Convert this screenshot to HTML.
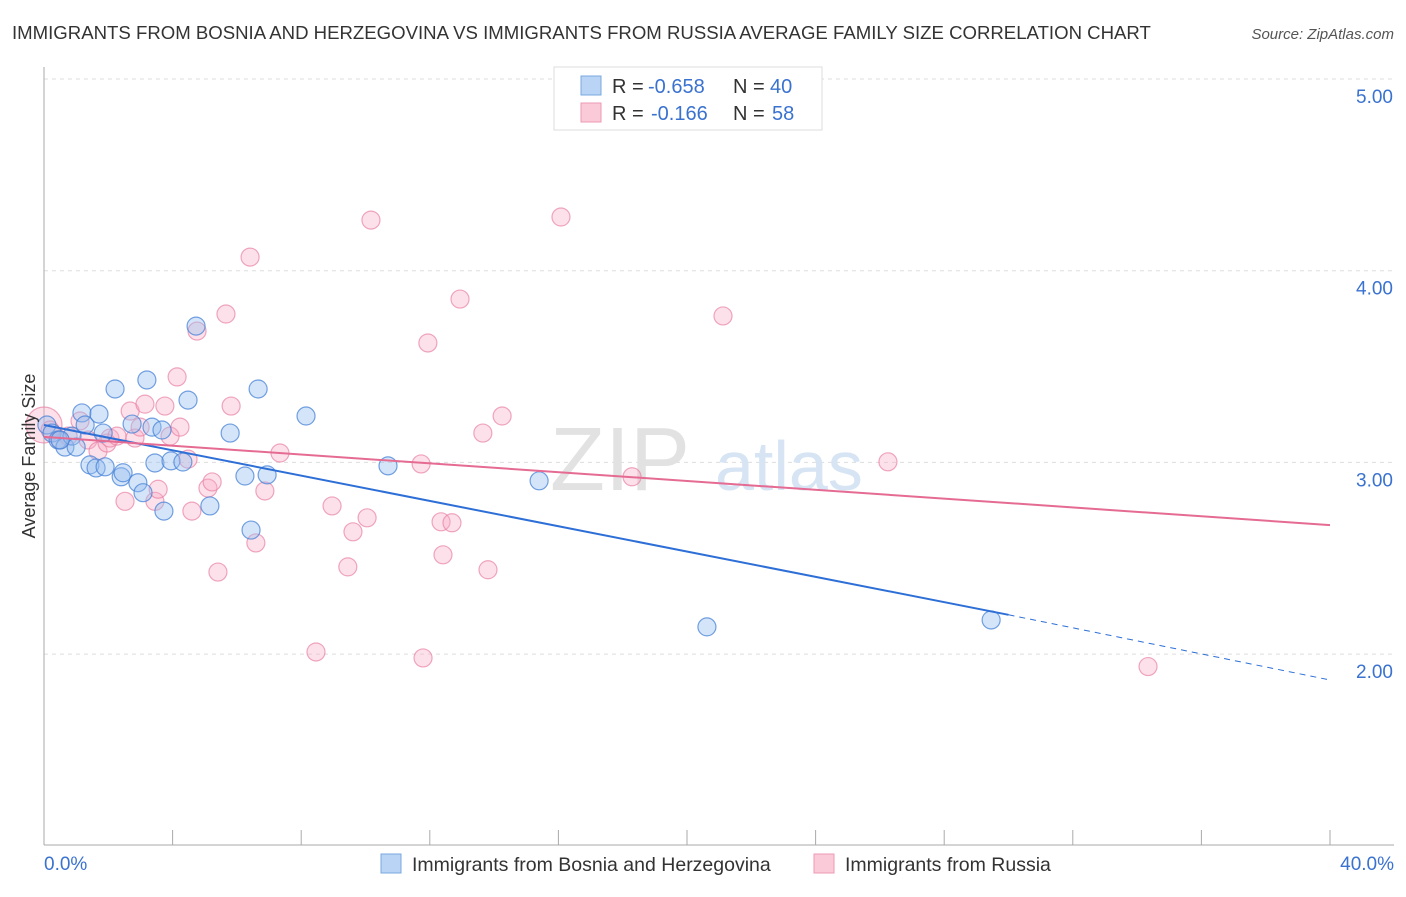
<!DOCTYPE html>
<html><head><meta charset="utf-8"><style>
body{margin:0;background:#fff;font-family:"Liberation Sans",sans-serif;}
svg text{font-family:"Liberation Sans",sans-serif;}
</style></head><body>
<svg id="chart" width="1406" height="892" xmlns="http://www.w3.org/2000/svg">
<text x="12" y="39" font-size="18.6" fill="#333">IMMIGRANTS FROM BOSNIA AND HERZEGOVINA VS IMMIGRANTS FROM RUSSIA AVERAGE FAMILY SIZE CORRELATION CHART</text>
<text x="1394" y="39" font-size="15" fill="#555" font-style="italic" text-anchor="end">Source: ZipAtlas.com</text>
<g id="grid"></g>
<text x="690" y="490" font-size="90" fill="#e2e2e2" text-anchor="end" font-family="Liberation Serif">ZIP</text>
<text x="715" y="490" font-size="70" fill="#d6e4f4">atlas</text>
<g id="points"></g>
<g id="lines"></g>
<text x="35" y="456" font-size="18" fill="#333" text-anchor="middle" transform="rotate(-90 35 456)">Average Family Size</text>
<g>
<rect x="554" y="67" width="268" height="63" fill="#fff" stroke="#ddd"/>
<rect x="581" y="76" width="20" height="19" fill="#b9d4f5" stroke="#7aa8e0"/>
<rect x="581" y="103" width="20" height="19" fill="#fbcad8" stroke="#ee9ab4"/>
<text x="612" y="93" font-size="20" fill="#333">R =</text>
<text x="648" y="93" font-size="20" fill="#3a72d0">-0.658</text>
<text x="733" y="93" font-size="20" fill="#333">N =</text>
<text x="770" y="93" font-size="20" fill="#3a72d0">40</text>
<text x="612" y="120" font-size="20" fill="#333">R =</text>
<text x="651" y="120" font-size="20" fill="#3a72d0">-0.166</text>
<text x="733" y="120" font-size="20" fill="#333">N =</text>
<text x="772" y="120" font-size="20" fill="#3a72d0">58</text>
</g>
<g>
<rect x="381" y="854" width="20" height="19" fill="#b9d4f5" stroke="#7aa8e0"/>
<text x="412" y="871" font-size="19.5" fill="#333">Immigrants from Bosnia and Herzegovina</text>
<rect x="814" y="854" width="20" height="19" fill="#fbcad8" stroke="#ee9ab4"/>
<text x="845" y="871" font-size="19.5" fill="#333">Immigrants from Russia</text>
</g>
</svg>
<script>
const yTicks=[2,3,4,5];
const yTickLabels=["2.00","3.00","4.00","5.00"];
const xTickLabels=["0.0%","40.0%"];
const blueX=[0.09,0.25,0.44,0.65,0.87,1.0,1.18,1.28,1.43,1.62,1.71,1.84,1.90,2.21,2.40,2.46,2.74,2.92,3.08,3.20,3.36,3.45,3.67,3.73,3.95,4.32,4.48,4.73,5.16,5.79,6.25,6.44,6.66,6.94,8.15,10.70,15.40,20.62,29.46,0.50];
const blueY=[3.195,3.153,3.117,3.080,3.137,3.080,3.258,3.195,2.987,2.971,3.252,3.153,2.977,3.383,2.925,2.946,3.200,2.894,2.842,3.430,3.184,2.997,3.169,2.746,3.008,3.002,3.325,3.711,2.773,3.153,2.929,2.647,3.383,2.935,3.242,2.982,2.904,2.142,2.178,3.117];
const pinkX=[0,0.19,0.50,0.75,1.12,1.37,1.68,1.96,2.05,2.27,2.52,2.68,2.83,2.99,3.14,3.45,3.55,3.76,3.92,4.14,4.23,4.48,4.60,4.76,5.10,5.23,5.41,5.66,5.82,6.41,6.59,6.87,7.34,8.46,8.96,9.45,9.61,10.05,10.17,11.73,11.79,11.94,12.35,12.41,12.69,12.94,13.65,13.81,14.25,16.08,18.29,21.12,26.25,34.34];
const pinkY=[3.195,3.169,3.117,3.137,3.216,3.117,3.059,3.101,3.127,3.137,2.797,3.268,3.127,3.184,3.304,2.797,2.860,3.294,3.137,3.446,3.184,3.017,2.746,3.685,2.866,2.898,2.428,3.774,3.294,4.071,2.580,2.851,3.049,2.011,2.773,2.455,2.638,2.711,4.264,2.992,1.980,3.623,2.690,2.518,2.685,3.852,3.153,2.440,3.242,4.280,2.925,3.764,3.003,1.935];
const blueLine=[[0,3.195],[30,2.205],[40,1.865]];
const pinkLine=[[0,3.133],[40,2.673]];
const NS="http://www.w3.org/2000/svg";
const X=v=>44+v/40*1286, Y=v=>79+(5-v)*191.7;
function mk(tag,attrs,parent){const e=document.createElementNS(NS,tag);for(const k in attrs)e.setAttribute(k,attrs[k]);parent.appendChild(e);return e;}
const grid=document.getElementById('grid');
yTicks.forEach((t,i)=>{
 const l=mk('line',{x1:44,x2:1394,y1:Y(t),y2:Y(t),stroke:'#ddd','stroke-dasharray':'4 4'},grid);
 
 
 const tx=mk('text',{x:1393,y:Y(t)+24,'font-size':19,fill:'#3a72d0','text-anchor':'end'},grid);
 tx.textContent=yTickLabels[i];
 
 
});
const ax=mk('line',{x1:44,x2:44,y1:67,y2:845,stroke:'#aaa'},grid);


const bx=mk('line',{x1:44,x2:1394,y1:845,y2:845,stroke:'#aaa'},grid);


for(let i=0;i<=10;i++){
 const t=mk('line',{x1:X(i*4),x2:X(i*4),y1:830,y2:845,stroke:'#aaa'},grid);
 
 
}
[[0,'start',44],[40,'end',1394]].forEach((d,i)=>{
 const tx=mk('text',{x:d[2],y:870,'font-size':19,fill:'#3a72d0','text-anchor':d[1]},grid);
 tx.textContent=xTickLabels[i];
 
 
});
const pts=document.getElementById('points');
pinkX.forEach((x,i)=>{
 const c=mk('circle',{cx:X(x),cy:Y(pinkY[i]),r:i==0?18:9,fill:'rgba(248,170,195,0.35)',stroke:'rgba(232,130,165,0.7)','stroke-width':1.2},pts);
 
 
});
blueX.forEach((x,i)=>{
 const c=mk('circle',{cx:X(x),cy:Y(blueY[i]),r:9,fill:'rgba(150,190,240,0.4)',stroke:'rgba(70,130,215,0.75)','stroke-width':1.2},pts);
 
 
});
const ln=document.getElementById('lines');
const b1=mk('line',{x1:X(blueLine[0][0]),y1:Y(blueLine[0][1]),x2:X(blueLine[1][0]),y2:Y(blueLine[1][1]),stroke:'#2d6fd6','stroke-width':2},ln);


const b2=mk('line',{x1:X(blueLine[1][0]),y1:Y(blueLine[1][1]),x2:X(blueLine[2][0]),y2:Y(blueLine[2][1]),stroke:'#2d6fd6','stroke-width':1,'stroke-dasharray':'6 5'},ln);


const p1=mk('line',{x1:X(pinkLine[0][0]),y1:Y(pinkLine[0][1]),x2:X(pinkLine[1][0]),y2:Y(pinkLine[1][1]),stroke:'#e56b93','stroke-width':2},ln);


</script>
</body></html>
